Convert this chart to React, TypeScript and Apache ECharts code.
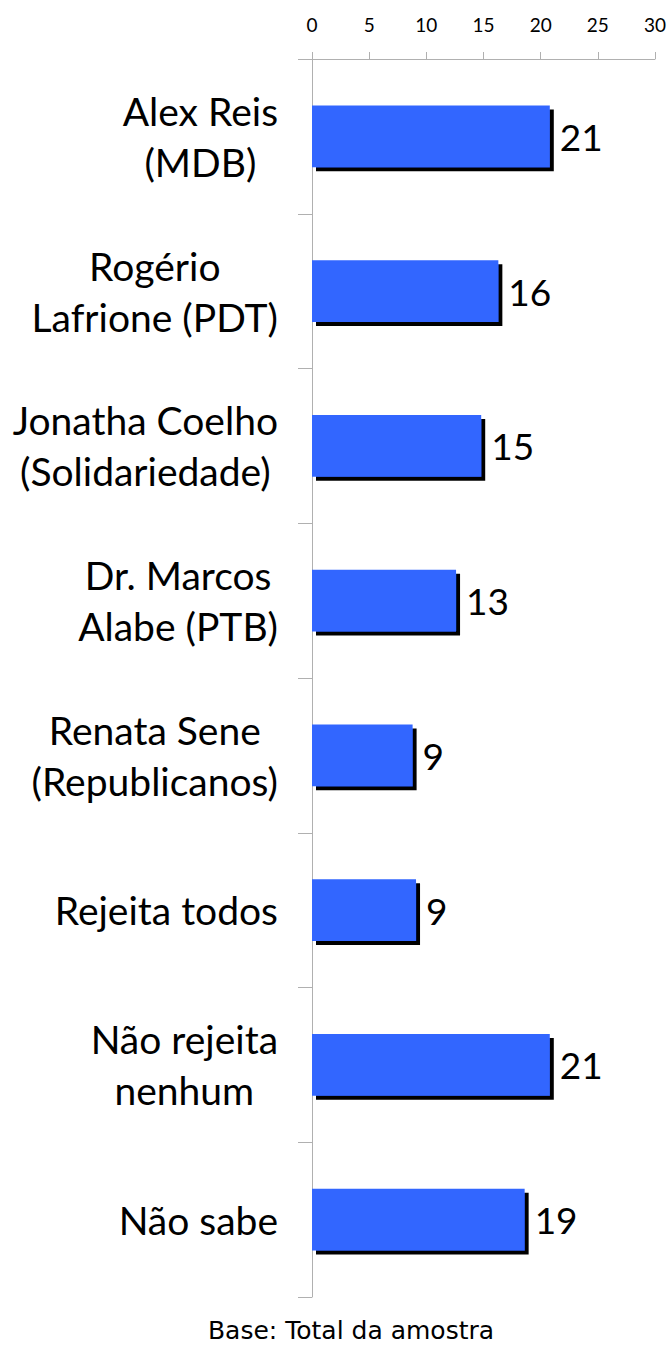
import React, { useEffect, useRef } from "react";
import * as echarts from "echarts";

const categories = [
  "Alex Reis\n(MDB)",
  "Rogério\nLafrione (PDT)",
  "Jonatha Coelho\n(Solidariedade)",
  "Dr. Marcos\nAlabe (PTB)",
  "Renata Sene\n(Republicanos)",
  "Rejeita todos",
  "Não rejeita\nnenhum",
  "Não sabe",
];
const values = [20.8, 16.3, 14.8, 12.6, 8.8, 9.1, 20.8, 18.6];
const labels = ["21", "16", "15", "13", "9", "9", "21", "19"];
const axisMin = 0;
const axisMax = 30;
const axisInterval = 5;
const footnote = "Base: Total da amostra";

export default function App() {
  const ref = useRef<HTMLDivElement>(null);
  useEffect(() => {
    if (!ref.current) return;
    const chart = echarts.init(ref.current, null, { renderer: "svg" });
    chart.setOption({
      animation: false,
      backgroundColor: "#ffffff",
      grid: { left: 312, right: 11, top: 59, bottom: 48, containLabel: false },
      xAxis: {
        type: "value",
        position: "top",
        min: axisMin,
        max: axisMax,
        interval: axisInterval,
        axisLine: { show: true, lineStyle: { color: "#b0b0b0", width: 1 } },
        axisTick: { show: true, length: 7, lineStyle: { color: "#b0b0b0" } },
        splitLine: { show: false },
        axisLabel: {
          margin: 25,
          color: "#000000",
          fontFamily: "Lato",
          fontSize: 19,
        },
      },
      yAxis: {
        type: "category",
        inverse: true,
        data: categories,
        axisLine: { show: true, lineStyle: { color: "#b0b0b0", width: 1 } },
        axisTick: { show: true, length: 14, alignWithLabel: false, lineStyle: { color: "#b0b0b0" } },
        axisLabel: {
          margin: 34,
          align: "right",
          interval: 0,
          formatter: (v: string) =>
            v
              .split("\n")
              .map((l) => "{c|" + l + "}")
              .join("\n"),
          rich: {
            c: {
              align: "center",
              color: "#000000",
              fontFamily: "Lato",
              fontSize: 39,
              lineHeight: 51,
            },
          },
        },
      },
      series: [
        {
          type: "bar",
          data: values,
          barWidth: "40%",
          itemStyle: {
            color: "#3366ff",
            shadowColor: "#000000",
            shadowBlur: 0,
            shadowOffsetX: 4,
            shadowOffsetY: 4,
          },
          label: {
            show: true,
            position: "right",
            distance: 10,
            color: "#000000",
            fontFamily: "Lato",
            fontSize: 37,
            formatter: (p: any) => labels[p.dataIndex],
          },
        },
      ],
      graphic: [
        {
          type: "text",
          x: 351,
          y: 1330,
          style: {
            text: footnote,
            fontFamily: "DejaVu Sans",
            fontSize: 25,
            fill: "#000000",
            textAlign: "center",
            textVerticalAlign: "middle",
          },
        },
      ],
    });
    return () => chart.dispose();
  }, []);
  return (
    <div
      ref={ref}
      style={{ position: "absolute", left: 0, top: 0, width: 669, height: 1345 }}
    />
  );
}
